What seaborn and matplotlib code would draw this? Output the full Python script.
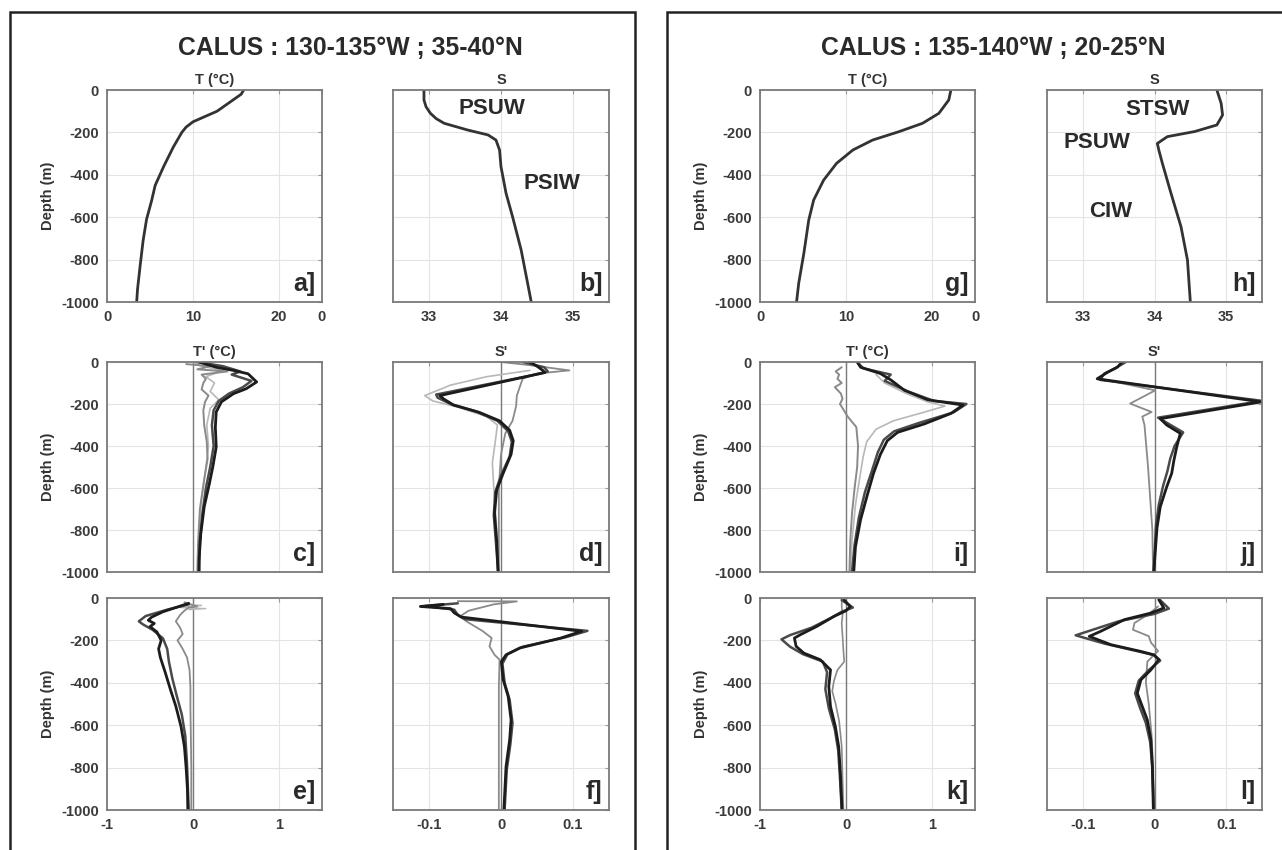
import matplotlib
matplotlib.use("Agg")
import matplotlib.pyplot as plt
from matplotlib.patches import Rectangle
import seaborn as sns

# --- mean profiles (130-135W ; 35-40N) ---
a_z = [0, -20, -60, -100, -150, -175, -200, -270, -360, -450, -520, -610, -710, -830, -940, -1000]
a_t = [15.9, 15.6, 14.2, 12.8, 10.0, 9.2, 8.7, 7.7, 6.6, 5.6, 5.2, 4.6, 4.2, 3.85, 3.55, 3.45]
b_z = [0, -47, -80, -110, -135, -157, -189, -212, -236, -283, -362, -487, -597, -755, -912, -1000]
b_s = [32.93, 32.93, 32.96, 33.02, 33.1, 33.21, 33.54, 33.82, 33.93, 33.98, 34.0, 34.07, 34.16, 34.28, 34.37, 34.42]

# --- mean profiles (135-140W ; 20-25N) ---
g_z = [0, -47, -110, -157, -196, -236, -283, -346, -425, -519, -613, -770, -912, -1000]
g_t = [22.2, 21.95, 20.8, 18.9, 16.2, 13.1, 10.8, 8.9, 7.4, 6.24, 5.67, 5.1, 4.5, 4.25]
h_z = [0, -63, -118, -165, -196, -220, -252, -283, -346, -487, -645, -802, -1000]
h_s = [34.87, 34.93, 34.95, 34.87, 34.56, 34.18, 34.04, 34.06, 34.11, 34.23, 34.37, 34.46, 34.5]

# --- anomalies, panel c (T') ---
c1_z = [0, -25, -40, -56, -95, -127, -151, -190, -238, -310, -405, -500, -580, -690, -820, -945, -1000]
c1_v = [0.07, 0.27, 0.47, 0.64, 0.74, 0.62, 0.47, 0.33, 0.27, 0.26, 0.27, 0.23, 0.19, 0.13, 0.09, 0.07, 0.07]
c2_z = [0, -20, -45, -60, -90, -120, -150, -185, -230, -300, -400, -500, -600, -720, -850, -1000]
c2_v = [0.05, 0.35, 0.55, 0.45, 0.68, 0.58, 0.42, 0.3, 0.24, 0.22, 0.24, 0.2, 0.15, 0.11, 0.08, 0.07]
c3_z = [-10, -20, -35, -45, -60, -80, -100, -130, -160, -190, -230, -300, -380, -460, -560, -700, -850, -1000]
c3_v = [-0.08, 0.2, 0.05, 0.4, 0.1, 0.15, 0.12, 0.1, 0.18, 0.14, 0.12, 0.13, 0.16, 0.17, 0.13, 0.08, 0.06, 0.05]
c4_z = [0, -20, -40, -70, -100, -140, -180, -220, -300, -400, -500, -650, -800, -1000]
c4_v = [0.0, 0.1, 0.35, 0.15, 0.25, 0.2, 0.3, 0.2, 0.16, 0.18, 0.15, 0.1, 0.07, 0.06]

# --- panel d (S') ---
d1_z = [0, -20, -40, -50, -160, -175, -205, -240, -280, -325, -375, -440, -530, -610, -720, -850, -1000]
d1_v = [0.04, 0.05, 0.058, 0.061, -0.085, -0.08, -0.066, -0.03, -0.002, 0.012, 0.017, 0.014, 0.003, -0.006, -0.009, -0.006, -0.004]
d2_z = [0, -25, -45, -55, -155, -170, -200, -235, -280, -330, -380, -450, -540, -620, -730, -860, -1000]
d2_v = [0.03, 0.06, 0.065, 0.055, -0.09, -0.088, -0.07, -0.035, -0.005, 0.01, 0.015, 0.012, 0.0, -0.008, -0.01, -0.007, -0.004]
d3_z = [0, -15, -40, -55, -80, -120, -160, -210, -280, -340, -440, -600, -800, -1000]
d3_v = [0.0, 0.04, 0.095, 0.05, 0.03, 0.026, 0.022, 0.021, 0.016, 0.006, 0.0, -0.003, -0.003, -0.003]
d4_z = [-40, -70, -110, -160, -185, -215, -260, -300, -380, -480, -600, -800, -1000]
d4_v = [0.04, -0.02, -0.07, -0.106, -0.095, -0.06, -0.02, -0.005, -0.008, -0.012, -0.01, -0.006, -0.004]

# --- panel e (T') ---
e1_z = [-25, -45, -65, -90, -105, -120, -135, -160, -200, -240, -280, -355, -435, -510, -605, -700, -800, -900, -1000]
e1_v = [-0.05, -0.2, -0.35, -0.48, -0.52, -0.45, -0.5, -0.42, -0.37, -0.4, -0.38, -0.32, -0.26, -0.2, -0.14, -0.1, -0.08, -0.065, -0.06]
e2_z = [-30, -55, -85, -110, -125, -150, -190, -240, -300, -380, -460, -550, -650, -780, -1000]
e2_v = [-0.05, -0.3, -0.55, -0.63, -0.58, -0.47, -0.35, -0.3, -0.28, -0.24, -0.19, -0.13, -0.09, -0.07, -0.05]
e3_z = [-20, -40, -45, -60, -80, -110, -140, -170, -200, -240, -280, -340, -420, -520, -650, -800, -1000]
e3_v = [-0.1, 0.05, -0.05, -0.1, -0.15, -0.2, -0.15, -0.12, -0.18, -0.12, -0.07, -0.04, -0.03, -0.03, -0.025, -0.02, -0.02]
e4_z = [-30, -35, -45, -50, -55]
e4_v = [-0.1, 0.1, -0.15, 0.15, -0.05]

# --- panel f (S') ---
f1_z = [-30, -40, -50, -70, -90, -157, -190, -236, -268, -300, -385, -465, -575, -670, -795, -1000]
f1_v = [-0.08, -0.112, -0.07, -0.065, -0.055, 0.112, 0.082, 0.026, 0.007, 0.0005, 0.003, 0.01, 0.014, 0.012, 0.007, 0.004]
f2_z = [-25, -38, -55, -80, -100, -155, -185, -230, -265, -310, -400, -480, -590, -690, -810, -1000]
f2_v = [-0.06, -0.105, -0.065, -0.06, -0.05, 0.12, 0.09, 0.03, 0.009, 0.002, 0.005, 0.012, 0.016, 0.013, 0.008, 0.005]
f3_z = [-15, -16, -30, -60, -87, -110, -157, -189, -228, -268, -291, -420, -700, -1000]
f3_v = [-0.06, 0.022, -0.01, -0.045, -0.057, -0.048, -0.025, -0.013, -0.016, -0.009, -0.002, -0.003, -0.003, -0.003]

# --- panel i (T') ---
i1_z = [0, -25, -55, -85, -135, -180, -205, -245, -295, -335, -375, -440, -530, -630, -750, -880, -1000]
i1_v = [0.13, 0.17, 0.40, 0.52, 0.68, 0.95, 1.36, 1.22, 0.91, 0.60, 0.48, 0.40, 0.32, 0.25, 0.17, 0.11, 0.09]
i2_z = [0, -30, -60, -90, -140, -185, -200, -240, -290, -330, -370, -430, -520, -620, -740, -870, -1000]
i2_v = [0.13, 0.2, 0.52, 0.45, 0.72, 1.02, 1.4, 1.25, 0.85, 0.56, 0.44, 0.37, 0.3, 0.22, 0.15, 0.1, 0.07]
i3_z = [-25, -45, -60, -80, -100, -120, -150, -175, -200, -260, -310, -400, -500, -600, -720, -850, -1000]
i3_v = [-0.05, -0.12, -0.08, -0.1, -0.05, -0.13, -0.06, -0.04, -0.07, 0.02, 0.12, 0.14, 0.13, 0.1, 0.07, 0.05, 0.04]
i4_z = [-60, -100, -150, -190, -210, -240, -280, -320, -380, -450, -550, -680, -850, -1000]
i4_v = [0.35, 0.45, 0.7, 0.95, 1.15, 0.9, 0.55, 0.35, 0.24, 0.2, 0.16, 0.11, 0.07, 0.05]

# --- panel j (S') ---
j1_z = [0, -25, -50, -80, -190, -270, -300, -340, -405, -470, -530, -595, -690, -790, -1000]
j1_v = [-0.045, -0.052, -0.066, -0.08, 0.149, 0.008, 0.017, 0.036, 0.031, 0.027, 0.024, 0.017, 0.008, 0.0035, -0.001]
j2_z = [0, -30, -55, -85, -185, -265, -295, -335, -400, -460, -520, -590, -680, -780, -1000]
j2_v = [-0.04, -0.055, -0.07, -0.076, 0.15, 0.005, 0.02, 0.04, 0.028, 0.022, 0.018, 0.012, 0.006, 0.002, -0.001]
j3_z = [-80, -135, -198, -238, -260, -300, -380, -500, -650, -800, -1000]
j3_v = [-0.075, 0.001, -0.034, -0.004, -0.017, -0.014, -0.012, -0.009, -0.006, -0.003, -0.002]

# --- panel k (T') ---
k1_z = [-10, -40, -60, -87, -134, -173, -189, -228, -260, -291, -339, -417, -512, -606, -701, -827, -1000]
k1_v = [-0.02, 0.05, 0.0, -0.14, -0.34, -0.53, -0.60, -0.58, -0.49, -0.30, -0.18, -0.2, -0.18, -0.124, -0.085, -0.065, -0.046]
k2_z = [-10, -45, -65, -95, -140, -175, -195, -230, -265, -300, -350, -430, -520, -620, -720, -850, -1000]
k2_v = [-0.05, 0.08, -0.05, -0.18, -0.4, -0.65, -0.75, -0.65, -0.5, -0.27, -0.22, -0.24, -0.2, -0.13, -0.09, -0.07, -0.05]
k3_z = [0, -40, -80, -120, -180, -250, -300, -340, -390, -440, -500, -580, -700, -850, -1000]
k3_v = [-0.05, -0.05, -0.04, -0.05, -0.04, -0.03, -0.02, -0.1, -0.14, -0.16, -0.12, -0.08, -0.05, -0.04, -0.03]

# --- panel l (S') ---
l1_z = [-8, -47, -71, -102, -157, -181, -220, -252, -268, -291, -339, -386, -449, -512, -575, -669, -795, -1000]
l1_v = [0.006, 0.013, -0.005, -0.042, -0.075, -0.091, -0.061, -0.019, -0.001, 0.006, -0.005, -0.019, -0.024, -0.017, -0.010, -0.005, -0.003, -0.0016]
l2_z = [-10, -50, -75, -110, -165, -176, -215, -250, -270, -295, -340, -390, -450, -520, -590, -680, -800, -1000]
l2_v = [0.008, 0.02, 0.0, -0.05, -0.1, -0.11, -0.07, -0.025, 0.0, 0.008, -0.008, -0.022, -0.027, -0.02, -0.012, -0.006, -0.003, -0.001]
l3_z = [-40, -80, -118, -150, -180, -210, -250, -300, -400, -500, -650, -800, -1000]
l3_v = [0.005, -0.01, -0.028, -0.03, -0.008, -0.005, 0.005, -0.01, -0.012, -0.008, -0.004, -0.002, -0.001]

titles = ["CALUS : 130-135°W ; 35-40°N", "CALUS : 135-140°W ; 20-25°N"]
depth_ticks = [0, -200, -400, -600, -800, -1000]

sns.set_style("white")
plt.rcParams['font.family'] = ['Liberation Sans', 'DejaVu Sans']
plt.rcParams['axes.unicode_minus'] = False

W, H = 1282, 850
fig = plt.figure(figsize=(W / 100, H / 100), dpi=100)
fig.patch.set_facecolor("white")

def box(x0, y0, x1, y1):
    return fig.add_axes([x0 / W, 1 - y1 / H, (x1 - x0) / W, (y1 - y0) / H])

cols = [(107, 322), (393, 609), (760, 975), (1047, 1262)]
rows = [(90, 302), (362, 572), (598, 810)]

BLACK, DARK, GREY, LIGHT = "#1c1c1c", "#4a4a4a", "#8a8a8a", "#b8b8b8"

def line(ax, v, z, color, lw):
    sns.lineplot(x=v, y=z, ax=ax, sort=False, estimator=None, orient="y",
                 color=color, linewidth=lw)

def style(ax, xlim, xticks, xlabels, ylab, title, letter, zero=False):
    ax.set_xlim(*xlim)
    ax.set_ylim(-1000, 0)
    ax.set_yticks(depth_ticks)
    ax.set_xticks(xticks)
    ax.grid(True, color="#e4e4e4", linewidth=0.8)
    ax.set_axisbelow(True)
    if zero:
        ax.axvline(0, color="#7a7a7a", linewidth=1.0, zorder=1)
    if xlabels is None:
        ax.set_xticklabels([])
    else:
        ax.set_xticklabels(xlabels)
    if ylab:
        ax.set_ylabel("Depth (m)", fontsize=10.5, fontweight="bold", color="#333333", labelpad=4)
        ax.set_yticklabels([str(t) for t in depth_ticks])
    else:
        ax.set_ylabel("")
        ax.set_yticklabels([])
    ax.set_xlabel("")
    if title:
        ax.set_title(title, fontsize=10.5, fontweight="bold", color="#333333", pad=4)
    ax.tick_params(direction="in", length=3, top=True, right=True, color="#999999",
                   labelsize=10.5, labelcolor="#3a3a3a", pad=6)
    for lab in ax.get_xticklabels() + ax.get_yticklabels():
        lab.set_fontweight("bold")
    for sp in ax.spines.values():
        sp.set_color("#7a7a7a")
        sp.set_linewidth(1.3)
    ax.text(0.97, 0.03, letter, transform=ax.transAxes, ha="right", va="bottom",
            fontsize=18, fontweight="bold", color="#2a2a2a")

T_lim, S_lim, Tp_lim, Sp_lim = (0, 25), (32.5, 35.5), (-1, 1.5), (-0.15, 0.15)

# ---- left block ----
ax = box(cols[0][0], rows[0][0], cols[0][1], rows[0][1])
line(ax, a_t, a_z, "#333333", 2.0)
style(ax, T_lim, [0, 10, 20, 25], ["0", "10", "20", "0"], True, "T (°C)", "a]")

ax = box(cols[1][0], rows[0][0], cols[1][1], rows[0][1])
line(ax, b_s, b_z, "#333333", 2.0)
style(ax, S_lim, [33, 34, 35], ["33", "34", "35"], False, "S", "b]")
ax.text(33.875, -85, "PSUW", fontsize=16, fontweight="bold", color="#2a2a2a", ha="center", va="center")
ax.text(34.71, -443, "PSIW", fontsize=16, fontweight="bold", color="#2a2a2a", ha="center", va="center")

ax = box(cols[0][0], rows[1][0], cols[0][1], rows[1][1])
line(ax, c4_v, c4_z, LIGHT, 1.2)
line(ax, c3_v, c3_z, GREY, 1.4)
line(ax, c2_v, c2_z, DARK, 1.8)
line(ax, c1_v, c1_z, BLACK, 2.0)
style(ax, Tp_lim, [-1, 0, 1], None, True, "T' (°C)", "c]", zero=True)

ax = box(cols[1][0], rows[1][0], cols[1][1], rows[1][1])
line(ax, d4_v, d4_z, LIGHT, 1.2)
line(ax, d3_v, d3_z, GREY, 1.3)
line(ax, d2_v, d2_z, DARK, 1.8)
line(ax, d1_v, d1_z, BLACK, 2.0)
style(ax, Sp_lim, [-0.1, 0, 0.1], None, False, "S'", "d]", zero=True)

ax = box(cols[0][0], rows[2][0], cols[0][1], rows[2][1])
line(ax, e4_v, e4_z, LIGHT, 1.0)
line(ax, e3_v, e3_z, GREY, 1.3)
line(ax, e2_v, e2_z, DARK, 1.8)
line(ax, e1_v, e1_z, BLACK, 2.0)
style(ax, Tp_lim, [-1, 0, 1], ["-1", "0", "1"], True, None, "e]", zero=True)

ax = box(cols[1][0], rows[2][0], cols[1][1], rows[2][1])
line(ax, f3_v, f3_z, GREY, 1.3)
line(ax, f2_v, f2_z, DARK, 1.8)
line(ax, f1_v, f1_z, BLACK, 2.0)
style(ax, Sp_lim, [-0.1, 0, 0.1], ["-0.1", "0", "0.1"], False, None, "f]", zero=True)

# ---- right block ----
ax = box(cols[2][0], rows[0][0], cols[2][1], rows[0][1])
line(ax, g_t, g_z, "#333333", 2.0)
style(ax, T_lim, [0, 10, 20, 25], ["0", "10", "20", "0"], True, "T (°C)", "g]")

ax = box(cols[3][0], rows[0][0], cols[3][1], rows[0][1])
line(ax, h_s, h_z, "#333333", 2.0)
style(ax, S_lim, [33, 34, 35], ["33", "34", "35"], False, "S", "h]")
ax.text(34.04, -90, "STSW", fontsize=16, fontweight="bold", color="#2a2a2a", ha="center", va="center")
ax.text(33.2, -250, "PSUW", fontsize=16, fontweight="bold", color="#2a2a2a", ha="center", va="center")
ax.text(33.39, -571, "CIW", fontsize=16, fontweight="bold", color="#2a2a2a", ha="center", va="center")

ax = box(cols[2][0], rows[1][0], cols[2][1], rows[1][1])
line(ax, i4_v, i4_z, LIGHT, 1.2)
line(ax, i3_v, i3_z, GREY, 1.4)
line(ax, i2_v, i2_z, DARK, 1.8)
line(ax, i1_v, i1_z, BLACK, 2.0)
style(ax, Tp_lim, [-1, 0, 1], None, True, "T' (°C)", "i]", zero=True)

ax = box(cols[3][0], rows[1][0], cols[3][1], rows[1][1])
line(ax, j3_v, j3_z, GREY, 1.3)
line(ax, j2_v, j2_z, DARK, 1.8)
line(ax, j1_v, j1_z, BLACK, 2.0)
style(ax, Sp_lim, [-0.1, 0, 0.1], None, False, "S'", "j]", zero=True)

ax = box(cols[2][0], rows[2][0], cols[2][1], rows[2][1])
line(ax, k3_v, k3_z, GREY, 1.2)
line(ax, k2_v, k2_z, DARK, 1.8)
line(ax, k1_v, k1_z, BLACK, 2.0)
style(ax, Tp_lim, [-1, 0, 1], ["-1", "0", "1"], True, None, "k]", zero=True)

ax = box(cols[3][0], rows[2][0], cols[3][1], rows[2][1])
line(ax, l3_v, l3_z, GREY, 1.3)
line(ax, l2_v, l2_z, DARK, 1.8)
line(ax, l1_v, l1_z, BLACK, 2.0)
style(ax, Sp_lim, [-0.1, 0, 0.1], ["-0.1", "0", "0.1"], False, None, "l]", zero=True)

# block titles and frames
fig.text(350 / W, 1 - 48 / H, titles[0], fontsize=17.8, fontweight="bold", color="#2a2a2a", ha="center", va="center")
fig.text(993 / W, 1 - 48 / H, titles[1], fontsize=17.8, fontweight="bold", color="#2a2a2a", ha="center", va="center")
fig.patches.append(Rectangle((10 / W, -0.05), (635 - 10) / W, 1 - 12 / H + 0.05,
                             transform=fig.transFigure, fill=False, edgecolor="#222222", linewidth=1.8))
fig.patches.append(Rectangle((667 / W, -0.05), 0.5, 1 - 12 / H + 0.05,
                             transform=fig.transFigure, fill=False, edgecolor="#222222", linewidth=1.8))

fig.savefig("out.png", dpi=100, facecolor="white")
